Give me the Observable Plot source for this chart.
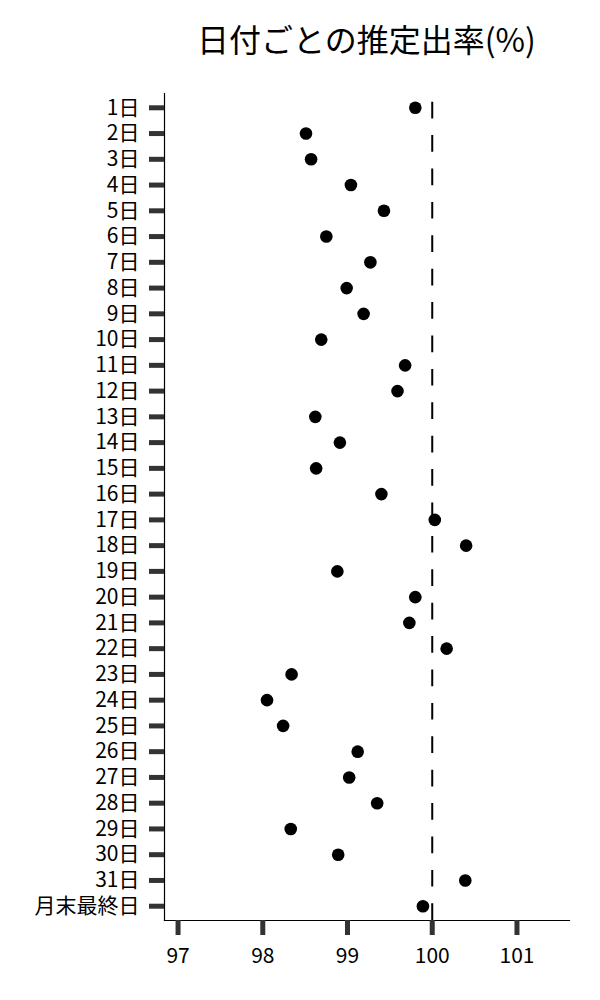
<!DOCTYPE html>
<html>
<head>
<meta charset="utf-8">
<script src="https://cdn.jsdelivr.net/npm/d3@7"></script>
<script src="https://cdn.jsdelivr.net/npm/@observablehq/plot@0.6"></script>
<style>
  html, body { margin: 0; padding: 0; background: #fff; }
  #title {
    box-sizing: border-box;
    width: 600px; height: 70px;
    padding: 10px 31px 0 164px;
    line-height: 56px;
    text-align: center;
    font-family: "Noto Sans CJK JP", sans-serif;
    font-size: 32px; color: #000;
  }
</style>
</head>
<body>
<div id="title"></div>
<div id="chart"></div>
<script>
const chartTitle = "日付ごとの推定出率(%)";
const dayLabels = [
  "1日","2日","3日","4日","5日","6日","7日","8日","9日","10日",
  "11日","12日","13日","14日","15日","16日","17日","18日","19日","20日",
  "21日","22日","23日","24日","25日","26日","27日","28日","29日","30日",
  "31日","月末最終日"
];
const rates = [
  99.80, 98.51, 98.57, 99.04, 99.43, 98.75, 99.27, 98.99, 99.19, 98.69,
  99.68, 99.59, 98.62, 98.91, 98.63, 99.40, 100.03, 100.40, 98.88, 99.80,
  99.73, 100.17, 98.34, 98.05, 98.24, 99.12, 99.02, 99.35, 98.33, 98.89,
  100.39, 99.89
];
const xTicks = [97, 98, 99, 100, 101];
const xDomain = [96.84, 101.62];
const referenceRate = [100];

document.getElementById("title").textContent = chartTitle;

const data = dayLabels.map((d, i) => ({day: d, rate: rates[i]}));

const chart = Plot.plot({
  width: 600,
  height: 930,
  marginTop: 23,
  marginBottom: 80,
  marginLeft: 164,
  marginRight: 31,
  style: {fontFamily: "'Noto Sans CJK JP', sans-serif", background: "#fff", color: "#000"},
  x: {domain: xDomain},
  y: {type: "point", domain: dayLabels, padding: 0.555, round: false},
  marks: [
    Plot.frame({anchor: "left", stroke: "#000", strokeWidth: 1.2}),
    Plot.frame({anchor: "bottom", stroke: "#000", strokeWidth: 1.2}),
    Plot.axisY({tickSize: 15, tickPadding: 10, fontSize: 21, stroke: "#333", strokeWidth: 5, fill: "#000", label: null}),
    Plot.axisX({ticks: xTicks, tickSize: 15, tickPadding: 13, fontSize: 21, stroke: "#333", strokeWidth: 5, fill: "#000", label: null, tickFormat: d => String(d)}),
    Plot.ruleX(referenceRate, {stroke: "#000", strokeWidth: 2, strokeDasharray: "16.7,16.7", strokeDashoffset: 24.7}),
    Plot.dot(data, {x: "rate", y: "day", r: 6.3, fill: "#000", stroke: "none"})
  ]
});
document.getElementById("chart").appendChild(chart);
</script>
</body>
</html>
